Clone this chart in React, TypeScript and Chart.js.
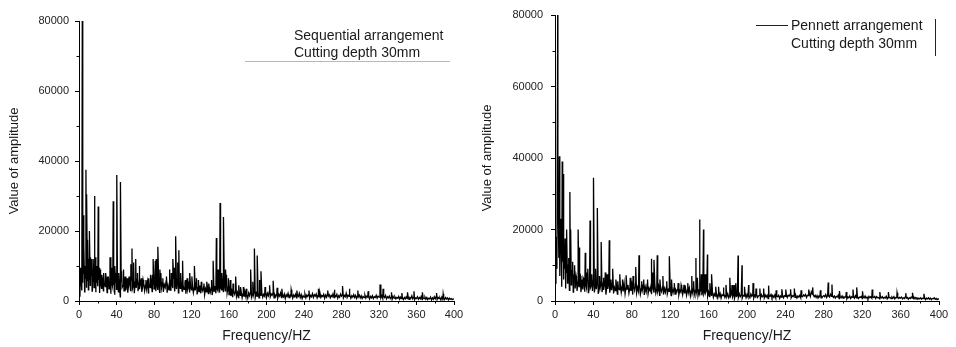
import React, { useEffect, useRef } from "react";
import { Chart, registerables } from "chart.js";

Chart.register(...registerables);

// ---- Tick values ----
const X_MINOR_TICKS = [20, 60, 100, 140, 180, 220, 260, 300, 340, 380];
const Y_MINOR_TICKS = [10000, 30000, 50000, 70000];

// ---- Titles / legend texts ----
const X_TITLE = "Frequency/HZ";
const Y_TITLE = "Value of amplitude";
const LEFT_LEGEND = ["Sequential arrangement", "Cutting depth 30mm"];
const RIGHT_LEGEND = ["Pennett arrangement", "Cutting depth 30mm"];

// ---- Left spectrum: background amplitude at 1 Hz steps (0..400 Hz) ----
const LEFT_BASE = [
  7200, 1200, 6800, 3000, 5200, 7800, 2600, 6500, 4000, 5800,
  3200, 6200, 4500, 7400, 2800, 5600, 3800, 6900, 2500, 5200,
  4200, 6000, 2300, 5400, 3600, 6300, 2900, 5000, 4100, 6600,
  2400, 4800, 3500, 5900, 2100, 5200, 3900, 4600, 1800, 5500,
  3300, 6100, 2600, 4900, 1200, 5600, 3800, 4400, 2900, 6200,
  3100, 5300, 2400, 4700, 5800, 3000, 6000, 3500, 4500, 2200,
  5400, 3700, 6200, 2800, 4900, 3400, 5800, 2600, 4300, 5100,
  2900, 4600, 3600, 5500, 2300, 4200, 3800, 5900, 2700, 4800,
  3500, 6300, 2800, 4900, 3300, 5600, 2500, 4400, 3700, 5200,
  2600, 4700, 3900, 5800, 2400, 4500, 3200, 6200, 2900, 5100,
  3800, 6400, 2700, 5300, 3400, 6000, 2300, 4900, 3600, 5500,
  2800, 4600, 3300, 5200, 2100, 4400, 3500, 4800, 2600, 4100,
  3200, 4700, 2400, 3900, 3000, 5100, 1900, 3800, 2700, 4400,
  2200, 3600, 2900, 4200, 1800, 3500, 2600, 4000, 2100, 3700,
  2500, 3900, 1700, 3400, 2800, 4300, 2200, 3600, 3000, 4600,
  2400, 4100, 3200, 4800, 2700, 5000, 2900, 4400, 2300, 3900,
  1800, 3200, 1400, 2800, 1100, 2600, 1900, 3000, 1300, 2400,
  1000, 2200, 1600, 2700, 900, 2100, 1400, 2500, 1200, 1900,
  800, 2300, 1500, 2600, 1100, 2000, 1700, 2800, 1000, 2200,
  1300, 2500, 900, 2100, 1600, 2400, 1100, 1900, 1400, 2600,
  1000, 2200, 1500, 2700, 1200, 2000, 1600, 2400, 900, 1800,
  1300, 2100, 800, 1900, 1400, 2300, 1000, 1700, 1200, 2000,
  700, 1800, 1300, 2200, 1000, 1600, 1400, 2100, 800, 1700,
  1200, 1900, 900, 1600, 1300, 2200, 1000, 1800, 700, 1500,
  1100, 2000, 900, 1700, 1300, 1900, 800, 1600, 1200, 2100,
  1000, 1800, 1400, 2000, 900, 1700, 1200, 2300, 1000, 1600,
  1300, 1900, 800, 1700, 1100, 2000, 1400, 1800, 900, 1600,
  1200, 2100, 1000, 1700, 1300, 1900, 800, 1500, 1100, 2000,
  1400, 1800, 900, 1600, 1200, 2200, 1000, 1700, 1300, 1900,
  800, 1500, 1100, 1800, 1000, 1600, 700, 1400, 1200, 1700,
  900, 1500, 700, 1300, 1000, 1700, 800, 1400, 1100, 1600,
  600, 1300, 900, 1500, 700, 1200, 1000, 1600, 800, 1400,
  1100, 1800, 900, 1500, 700, 1300, 1000, 1600, 600, 1200,
  900, 1400, 700, 1100, 500, 1300, 800, 1200, 600, 1000,
  800, 1300, 500, 1100, 700, 900, 400, 1000, 600, 1200,
  700, 1400, 500, 1000, 800, 1500, 600, 1100, 400, 900,
  700, 1200, 500, 1000, 600, 1300, 400, 900, 700, 1100,
  500, 1000, 400, 800, 600, 1100, 300, 900, 500, 1200,
  600, 1300, 400, 1000, 700, 900, 300, 1100, 500, 800,
  400, 1000, 600, 900, 300, 800, 500, 700, 400, 600,
  500,
];

// ---- Left spectrum: peaks [frequency Hz, amplitude] ----
const LEFT_PEAKS: [number, number][] = [
  [3.5, 80000], [4.5, 24500], [5.2, 16500], [7.4, 37500], [8.1, 30500],
  [9.1, 17500], [11.1, 20000], [12.2, 12500], [13.4, 12000], [15.1, 12000],
  [16.5, 30000], [18.2, 10000], [20.5, 27000], [22.4, 9000], [26.3, 8000],
  [30.4, 7000], [33.1, 12500], [36.5, 28500], [38.3, 10000], [40.3, 36000],
  [42.4, 8000], [44.2, 34000], [47.5, 9000], [53.4, 7000], [56.5, 15000],
  [58.3, 11000], [60.5, 12000], [64.1, 10000], [68.4, 6000], [76.3, 7500],
  [79.1, 12000], [81.4, 11500], [84.1, 15500], [87.3, 8000], [96.4, 9000],
  [100.1, 12000], [103.1, 18500], [106.5, 14500], [110.5, 11500], [113.4, 6000],
  [118.1, 8000], [123.1, 10000], [127.4, 6000], [133.3, 5000], [138.4, 5000],
  [143.1, 11500], [146.5, 18000], [150.5, 28000], [154.1, 24000], [157.3, 7500],
  [161.4, 6000], [167.1, 7000], [170.4, 4500], [175.3, 4000], [178.4, 3500],
  [183.1, 9000], [187.1, 15000], [190.1, 13000], [194.1, 8500], [207.1, 5800],
  [216.4, 3500], [226.3, 3200], [255.4, 3500], [265.3, 3000], [281.1, 4300],
  [297.4, 3000], [321.1, 4700], [324.3, 3500], [350.4, 2500], [357.3, 2800],
  [381.4, 2300],
  // smaller peaks in the dense band
  [1.5, 9500], [6.3, 10000], [10.4, 12000], [14.3, 9000], [17.4, 12500],
  [19.3, 8500], [21.4, 9500], [24.3, 7500], [28.4, 8000], [31.3, 7000],
  [34.4, 9500], [37.4, 9000], [39.3, 8000], [45.4, 8500], [49.3, 7000],
  [51.4, 6500], [55.3, 10500], [62.4, 8000], [66.3, 6500], [71.4, 6000],
  [74.3, 6500], [78.3, 7500], [82.4, 12000], [86.3, 9000], [89.4, 6500],
  [93.3, 7000], [98.4, 8000], [101.4, 9500], [105.3, 11000], [108.4, 8000],
  [115.3, 6500], [120.4, 7000], [125.3, 6500], [130.4, 5500], [136.3, 5500],
  [141.4, 6000], [148.4, 9000], [152.3, 8000], [156.3, 9000], [159.4, 6500],
  [164.3, 5000], [172.3, 4000], [185.4, 5500], [192.3, 6000], [198.4, 4000],
  [203.3, 4500], [211.3, 3800], [232.4, 3000], [245.3, 3000], [272.4, 3200],
  [288.3, 3500], [308.4, 2800], [333.3, 2500], [344.4, 2300], [366.3, 2500],
  [388.4, 2000],
];

// ---- Right spectrum: background amplitude at 1 Hz steps (0..400 Hz) ----
const RIGHT_BASE = [
  5000, 18000, 9000, 22000, 12000, 7000, 16000, 4000, 11000, 6000,
  9000, 3500, 8000, 5000, 10000, 3000, 7500, 4500, 8500, 2500,
  6500, 3500, 7000, 2800, 5500, 4000, 6500, 2500, 5000, 3200,
  6000, 2600, 4800, 3500, 6200, 2200, 5200, 3800, 4500, 2800,
  5800, 2400, 4600, 3300, 5500, 2000, 4200, 3600, 5000, 2500,
  4400, 3100, 5300, 1800, 4000, 3400, 4900, 2300, 4100, 3000,
  5100, 2100, 3800, 2900, 4600, 1900, 3600, 3200, 4800, 2400,
  4200, 2700, 5000, 2000, 3900, 3300, 4500, 2200, 3700, 2800,
  4600, 1800, 4100, 3000, 5200, 2300, 3800, 2700, 4900, 2000,
  3500, 3100, 4400, 1700, 3900, 2600, 4700, 2100, 3600, 2900,
  4300, 1900, 3700, 2500, 4500, 2200, 3400, 2800, 4100, 1600,
  3300, 2600, 4000, 1800, 3500, 2400, 3900, 2000, 3200, 2700,
  3800, 1500, 3400, 2300, 3700, 1900, 3100, 2600, 3600, 1700,
  3000, 2500, 3900, 1800, 3300, 2100, 3500, 1600, 3200, 2400,
  3600, 1400, 2900, 2200, 3400, 1700, 3000, 2000, 3300, 1500,
  2800, 2300, 3500, 1600, 3100, 1900, 2700, 2400, 3200, 1300,
  2500, 1200, 2200, 1600, 2600, 1000, 2000, 1400, 2300, 900,
  1900, 1300, 2100, 800, 1800, 1500, 2200, 1000, 1700, 1200,
  2000, 900, 1600, 1400, 2100, 1100, 1800, 800, 1900, 1300,
  1500, 1000, 2000, 1200, 1700, 800, 1600, 1400, 2100, 900,
  1800, 1100, 1500, 900, 2000, 1300, 1700, 800, 1600, 1200,
  1900, 1000, 1400, 1600, 800, 1800, 1200, 1500, 900, 1700,
  1100, 1600, 700, 1400, 1300, 1800, 900, 1500, 1000, 1700,
  800, 1300, 1200, 1600, 700, 1400, 1100, 1700, 900, 1500,
  1300, 1800, 1000, 1600, 1400, 1900, 900, 1500, 1200, 1700,
  1000, 1500, 800, 1400, 1100, 1600, 900, 1300, 1200, 1700,
  1400, 1800, 1000, 1600, 1500, 2200, 1300, 2600, 1900, 1700,
  1200, 1600, 1000, 1500, 800, 1400, 1100, 1700, 900, 1300,
  1500, 1200, 1800, 1000, 1600, 1400, 1100, 1900, 1300, 1500,
  1000, 1400, 800, 1300, 1100, 1600, 700, 1200, 900, 1400,
  800, 1200, 1000, 1300, 600, 1100, 900, 1400, 700, 1200,
  1000, 1300, 800, 1500, 900, 1200, 700, 1100, 1000, 1300,
  700, 1200, 900, 1400, 800, 1100, 600, 1300, 900, 1200,
  800, 1100, 1000, 1300, 700, 1200, 900, 1000, 600, 1100,
  900, 1200, 700, 1000, 800, 1300, 600, 1100, 900, 1000,
  700, 1100, 800, 1200, 600, 1000, 900, 1100, 700, 1000,
  800, 1100, 600, 900, 700, 1200, 800, 1000, 500, 900,
  700, 1100, 800, 1300, 600, 1000, 700, 900, 500, 800,
  600, 900, 500, 800, 700, 1000, 400, 800, 600, 900,
  500, 800, 400, 700, 600, 900, 500, 700, 400, 600,
  500,
];

// ---- Right spectrum: peaks [frequency Hz, amplitude] ----
const RIGHT_PEAKS: [number, number][] = [
  [2.8, 80000], [3.3, 26000], [4.5, 40500], [5.6, 23000], [7.5, 39000],
  [8.7, 35500], [10.5, 17500], [12.1, 20000], [14.3, 12000], [15.5, 30500],
  [16.3, 20000], [18.4, 11000], [20.4, 10000], [24.1, 20000], [25.3, 15000],
  [28.4, 6000], [31.5, 13500], [34.3, 9000], [36.5, 22500], [40.1, 34500],
  [42.3, 9000], [44.1, 26000], [48.1, 16500], [52.4, 8000], [56.5, 17000],
  [60.1, 9000], [63.4, 6000], [67.5, 7500], [74.1, 7200], [84.1, 9500],
  [87.5, 12800], [92.4, 6000], [100.1, 11800], [103.1, 11500], [106.5, 12800],
  [112.4, 7000], [119.1, 12500], [121.4, 6000], [128.3, 5000], [134.4, 4500],
  [142.5, 7000], [146.8, 12000], [150.6, 22800], [154.7, 20000], [158.8, 13000],
  [163.1, 7500], [170.4, 4000], [178.1, 4500], [182.1, 6500], [186.5, 4500],
  [190.7, 12700], [194.8, 10000], [201.7, 4500], [206.3, 5000], [213.4, 3500],
  [222.5, 4300], [240.4, 3200], [249.3, 3500], [268.4, 3800], [284.6, 5200],
  [288.5, 4600], [310.4, 3200], [314.3, 3800], [330.4, 3200], [347.3, 2500],
  [372.4, 2300],
  // smaller peaks in the dense band
  [1.4, 15000], [6.4, 18000], [9.4, 14000], [11.3, 10000], [13.4, 9000],
  [17.3, 8000], [19.4, 7500], [22.3, 6500], [26.4, 7000], [29.3, 6500],
  [33.4, 8000], [38.3, 7500], [46.4, 7000], [50.3, 6500], [54.4, 7500],
  [58.3, 6000], [65.4, 5500], [70.3, 6000], [78.4, 6500], [81.3, 7000],
  [90.3, 5500], [96.4, 6000], [101.4, 8000], [109.3, 6000], [116.4, 5500],
  [124.3, 5000], [131.4, 4500], [138.3, 5000], [144.4, 5500], [148.3, 6500],
  [152.4, 7500], [156.3, 7500], [161.3, 5000], [167.4, 4000], [175.3, 3800],
  [184.4, 4500], [188.3, 5000], [197.4, 4000], [209.4, 3500], [217.3, 3500],
  [230.4, 3000], [236.3, 3300], [245.4, 3300], [256.3, 3000], [264.3, 3200],
  [276.4, 3000], [296.3, 2800], [303.4, 2500], [320.3, 2700], [338.4, 2500],
  [356.3, 2300], [365.4, 2200], [384.3, 2000],
];

const FONT = '"Liberation Sans", Arial, Helvetica, sans-serif';

function buildPoints(base: number[], peaks: [number, number][]) {
  const pts = base.map((y, i) => ({ x: i, y }));
  for (const [x, y] of peaks) pts.push({ x, y });
  pts.sort((a, b) => a.x - b.x);
  return pts;
}

const minorTicksPlugin = {
  id: "minorTicks",
  afterDraw(chart: any) {
    const { ctx, scales } = chart;
    const x = scales.x;
    const y = scales.y;
    ctx.save();
    ctx.strokeStyle = "#000";
    ctx.lineWidth = 1;
    for (const v of X_MINOR_TICKS) {
      const px = Math.round(x.getPixelForValue(v)) + 0.5;
      ctx.beginPath();
      ctx.moveTo(px, y.bottom);
      ctx.lineTo(px, y.bottom + 2.5);
      ctx.stroke();
    }
    for (const v of Y_MINOR_TICKS) {
      const py = Math.round(y.getPixelForValue(v)) + 0.5;
      ctx.beginPath();
      ctx.moveTo(x.left, py);
      ctx.lineTo(x.left - 2.5, py);
      ctx.stroke();
    }
    ctx.restore();
  },
};

function makeLegendPlugin(kind: "left" | "right") {
  return {
    id: "customLegend",
    afterDraw(chart: any) {
      const ctx = chart.ctx;
      ctx.save();
      ctx.font = `14px ${FONT}`;
      ctx.fillStyle = "#1a1a1a";
      ctx.textBaseline = "middle";
      ctx.textAlign = "left";
      if (kind === "left") {
        ctx.fillText(LEFT_LEGEND[0], 294, 36);
        ctx.fillText(LEFT_LEGEND[1], 294, 53);
        ctx.strokeStyle = "#b8b8b8";
        ctx.lineWidth = 1;
        ctx.beginPath();
        ctx.moveTo(245, 61.5);
        ctx.lineTo(450, 61.5);
        ctx.stroke();
      } else {
        ctx.fillText(RIGHT_LEGEND[0], 313, 26);
        ctx.fillText(RIGHT_LEGEND[1], 313, 44);
        ctx.strokeStyle = "#222";
        ctx.lineWidth = 1;
        ctx.beginPath();
        ctx.moveTo(278, 25.5);
        ctx.lineTo(310, 25.5);
        ctx.stroke();
        ctx.beginPath();
        ctx.moveTo(457.5, 19);
        ctx.lineTo(457.5, 56);
        ctx.stroke();
      }
      ctx.restore();
    },
  };
}

function makeConfig(
  points: { x: number; y: number }[],
  kind: "left" | "right",
  layout: { top: number; right: number; yWidth: number; yTitlePad: number; yTickPad: number }
): any {
  return {
    type: "line",
    data: {
      datasets: [
        {
          data: points,
          borderColor: "#000",
          borderWidth: 1.3,
          pointRadius: 0,
          tension: 0,
          fill: false,
        },
      ],
    },
    options: {
      responsive: false,
      animation: false,
      devicePixelRatio: 1,
      parsing: false,
      layout: { padding: { top: layout.top, right: layout.right, bottom: 0, left: 0 } },
      plugins: { legend: { display: false }, tooltip: { enabled: false }, title: { display: false } },
      scales: {
        x: {
          type: "linear",
          min: 0,
          max: 400,
          afterFit(scale: any) {
            scale.height = 46;
          },
          ticks: {
            stepSize: 40,
            padding: 3,
            color: "#222",
            font: { family: FONT, size: 11 },
            maxRotation: 0,
            callback: (v: any) => String(v),
          },
          grid: { display: true, drawOnChartArea: false, drawTicks: true, tickLength: 4, color: "#000" },
          border: { display: true, color: "#000", width: 1 },
          title: {
            display: true,
            text: X_TITLE,
            color: "#1a1a1a",
            font: { family: FONT, size: 14 },
            padding: { top: 0, bottom: 2 },
          },
        },
        y: {
          type: "linear",
          min: 0,
          max: 80000,
          afterFit(scale: any) {
            scale.width = layout.yWidth;
          },
          ticks: {
            stepSize: 20000,
            padding: layout.yTickPad,
            color: "#222",
            font: { family: FONT, size: 11 },
            callback: (v: any) => String(v),
          },
          grid: { display: true, drawOnChartArea: false, drawTicks: true, tickLength: 4, color: "#000" },
          border: { display: true, color: "#000", width: 1 },
          title: {
            display: true,
            text: Y_TITLE,
            color: "#1a1a1a",
            font: { family: FONT, size: 13 },
            padding: { top: layout.yTitlePad, bottom: 0 },
          },
        },
      },
    },
    plugins: [minorTicksPlugin, makeLegendPlugin(kind)],
  };
}

function SpectrumChart(props: {
  kind: "left" | "right";
  base: number[];
  peaks: [number, number][];
  layout: { top: number; right: number; yWidth: number; yTitlePad: number; yTickPad: number };
}) {
  const ref = useRef<HTMLCanvasElement | null>(null);
  useEffect(() => {
    if (!ref.current) return;
    const chart = new Chart(ref.current, makeConfig(buildPoints(props.base, props.peaks), props.kind, props.layout));
    return () => chart.destroy();
  }, []);
  return <canvas ref={ref} width={478} height={347} style={{ display: "block", width: 478, height: 347 }} />;
}

export default function App() {
  return (
    <div style={{ position: "absolute", left: 0, top: 0, width: 956, height: 347, display: "flex", background: "#fff" }}>
      <SpectrumChart
        kind="left"
        base={LEFT_BASE}
        peaks={LEFT_PEAKS}
        layout={{ top: 21, right: 24, yWidth: 79, yTitlePad: 7, yTickPad: 6 }}
      />
      <SpectrumChart
        kind="right"
        base={RIGHT_BASE}
        peaks={RIGHT_PEAKS}
        layout={{ top: 15, right: 17, yWidth: 77, yTitlePad: 2, yTickPad: 8 }}
      />
    </div>
  );
}
